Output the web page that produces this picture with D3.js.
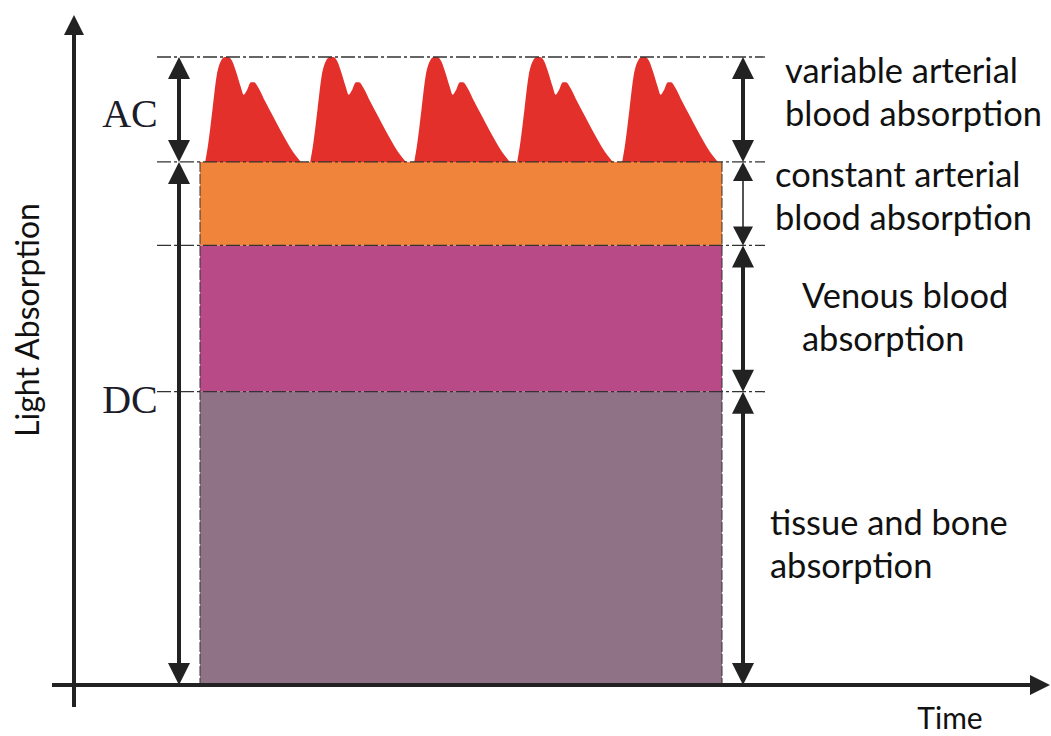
<!DOCTYPE html>
<html>
<head>
<meta charset="utf-8">
<script src="https://cdn.jsdelivr.net/npm/d3@7"></script>
<style>
  body { margin: 0; background: #fff; }
  svg { display: block; }
  .label { font-family: Lato, "Open Sans", sans-serif; fill: #111; }
  .ac-dc { font-family: "Liberation Serif", "DejaVu Serif", serif; fill: #1c1c2a; }
</style>
</head>
<body>
<div id="chart"></div>
<script>
// Absorption levels (arbitrary units)
const layerNames = ["tissue and bone absorption", "Venous blood absorption", "constant arterial blood absorption"];
const layerBottoms = [0, 4.67, 7.0];
const layerTops = [4.67, 7.0, 8.33];
const acPeak = 10;            // top of the pulsatile part
const dcLevel = 8.33;         // baseline of the pulses

// One heart beat: time (s) from onset, level as fraction of AC amplitude
const pulseTimes  = [0, 0.03, 0.07, 0.11, 0.15, 0.19, 0.22, 0.26, 0.30, 0.34, 0.37, 0.40, 0.44, 0.47, 0.51, 0.58, 0.65, 0.73, 0.81, 0.87, 0.92];
const pulseLevels = [0, 0.18, 0.50, 0.82, 0.96, 1.00, 1.00, 0.96, 0.85, 0.72, 0.64, 0.68, 0.76, 0.76, 0.71, 0.57, 0.44, 0.29, 0.15, 0.06, 0];
const beatOnsets = [0.05, 1.06, 2.06, 3.05, 4.06];
const timeSpan = [0, 5.02];

const colors = {
    pulse: "#e3302b",
    layers: ["#907286", "#b84b87", "#f0843a"],
    ink: "#222"
};

const width = 1051;
const height = 736;

const svg = d3.select("#chart")
    .append("svg")
    .attr("width", width)
    .attr("height", height);

// Scales
const x = d3.scaleLinear().domain(timeSpan).range([200, 722]);
const y = d3.scaleLinear().domain([0, acPeak]).range([685, 57]);

// Stacked absorption layers
svg.selectAll(".layer")
    .data(layerNames)
    .enter()
    .append("rect")
    .attr("class", "layer")
    .attr("x", x(timeSpan[0]))
    .attr("width", x(timeSpan[1]) - x(timeSpan[0]))
    .attr("y", (d, i) => y(layerTops[i]))
    .attr("height", (d, i) => y(layerBottoms[i]) - y(layerTops[i]))
    .attr("fill", (d, i) => colors.layers[i]);

// Thin dashed borders on the rect sides
[timeSpan[0], timeSpan[1]].forEach(t => {
    svg.append("line")
        .attr("x1", x(t)).attr("x2", x(t))
        .attr("y1", y(dcLevel)).attr("y2", y(0))
        .attr("stroke", "#333")
        .attr("stroke-width", 1)
        .attr("stroke-dasharray", "10,2");
});

// Pulsatile (AC) part, one area per beat
const area = d3.area()
    .x(d => x(d[0]))
    .y0(y(dcLevel))
    .y1(d => y(dcLevel + d[1] * (acPeak - dcLevel)))
    .curve(d3.curveMonotoneX);

svg.selectAll(".beat")
    .data(beatOnsets)
    .enter()
    .append("path")
    .attr("class", "beat")
    .attr("d", onset => area(pulseTimes.map((t, i) => [onset + t, pulseLevels[i]])))
    .attr("fill", colors.pulse);

// Dashed guide lines at each boundary
const guides = [acPeak, dcLevel, layerTops[1], layerTops[0]];
svg.selectAll(".guide")
    .data(guides)
    .enter()
    .append("line")
    .attr("class", "guide")
    .attr("x1", 157)
    .attr("x2", 765)
    .attr("y1", d => y(d))
    .attr("y2", d => y(d))
    .attr("stroke", "#333")
    .attr("stroke-width", 1.3)
    .attr("stroke-dasharray", "14,3,3,3");

// Axes (plain arrows, no ticks)
const axisG = svg.append("g").attr("fill", colors.ink).attr("stroke", colors.ink);
axisG.append("line")
    .attr("x1", 74).attr("x2", 74)
    .attr("y1", 707).attr("y2", 30)
    .attr("stroke-width", 4);
axisG.append("path")
    .attr("stroke", "none")
    .attr("d", "M74,15 L84,35 L64,35 Z");
axisG.append("line")
    .attr("x1", 52).attr("x2", 1034)
    .attr("y1", y(0)).attr("y2", y(0))
    .attr("stroke-width", 4);
axisG.append("path")
    .attr("stroke", "none")
    .attr("d", `M1050,${y(0)} L1030,${y(0) - 10} L1030,${y(0) + 10} Z`);

// Double-headed dimension arrows
function arrow(xPos, v0, v1, thin) {
    const top = y(v1), bot = y(v0);
    const hw = thin ? 10 : 11;
    const hl = thin ? 19 : 22;
    const g = svg.append("g");
    g.append("line")
        .attr("x1", xPos).attr("x2", xPos)
        .attr("y1", top + 4).attr("y2", bot - 4)
        .attr("stroke", thin ? "#555" : colors.ink)
        .attr("stroke-width", thin ? 2 : 4);
    g.append("path")
        .attr("fill", colors.ink)
        .attr("d", `M${xPos},${top} L${xPos + hw},${top + hl} L${xPos - hw},${top + hl} Z`);
    g.append("path")
        .attr("fill", colors.ink)
        .attr("d", `M${xPos},${bot} L${xPos + hw},${bot - hl} L${xPos - hw},${bot - hl} Z`);
}

// Left: AC and DC
arrow(179, dcLevel, acPeak, false);
arrow(179, 0, dcLevel, false);
// Right: each component
arrow(743, dcLevel, acPeak, false);
arrow(743, layerTops[1], layerTops[2], true);
arrow(743, layerTops[0], layerTops[1], false);
arrow(743, 0, layerTops[0], false);

// AC / DC labels
svg.append("text").attr("class", "ac-dc")
    .attr("x", 130).attr("y", 127)
    .attr("text-anchor", "middle")
    .style("font-size", "40px")
    .text("AC");
svg.append("text").attr("class", "ac-dc")
    .attr("x", 130).attr("y", 413)
    .attr("text-anchor", "middle")
    .style("font-size", "40px")
    .text("DC");

// Right side labels (two lines each)
const labelLines = [
    ["variable arterial", "blood absorption"],
    ["constant arterial", "blood absorption"],
    ["Venous blood", "absorption"],
    ["tissue and bone", "absorption"]
];
const labelPos = [[785, 83], [775, 187], [802, 308], [770, 535]];

// font size that makes a text as wide as in the picture
function fitSize(str, target) {
    const probe = svg.append("text").attr("class", "label").style("font-size", "30px").text(str);
    const s = 30 * target / probe.node().getComputedTextLength();
    probe.remove();
    return s;
}
const labelSize = fitSize("blood absorption", 257);

labelLines.forEach((lines, i) => {
    const t = svg.append("text")
        .attr("class", "label")
        .attr("x", labelPos[i][0])
        .attr("y", labelPos[i][1])
        .style("font-size", labelSize + "px");
    lines.forEach((line, j) => {
        t.append("tspan")
            .attr("x", labelPos[i][0])
            .attr("dy", j === 0 ? 0 : 43)
            .text(line);
    });
});

// Axis titles
svg.append("text")
    .attr("class", "label")
    .attr("transform", "translate(39,320) rotate(-90)")
    .attr("text-anchor", "middle")
    .style("font-size", fitSize("Light Absorption", 234) + "px")
    .text("Light Absorption");

svg.append("text")
    .attr("class", "label")
    .attr("x", 950)
    .attr("y", 729)
    .attr("text-anchor", "middle")
    .style("font-size", Math.min(fitSize("Time", 74), 30) + "px")
    .text("Time");
</script>
</body>
</html>
